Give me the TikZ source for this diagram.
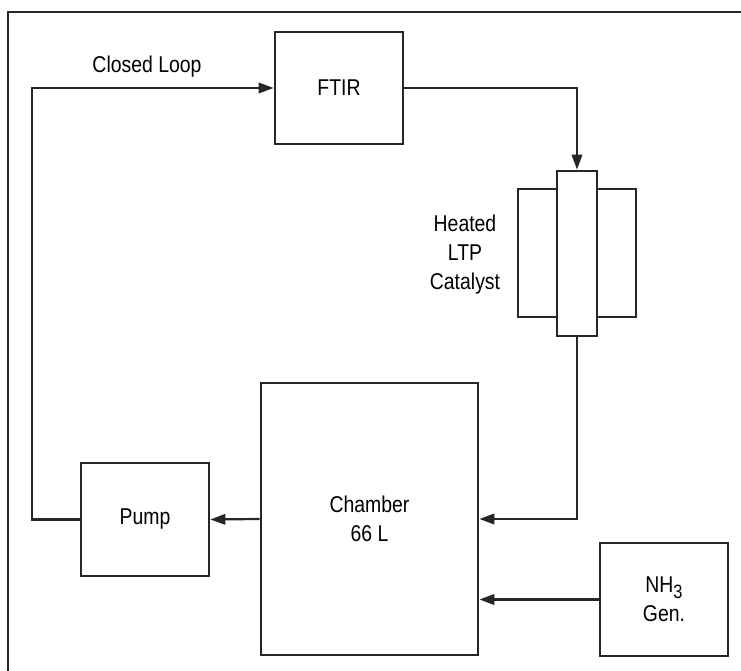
\documentclass[tikz,border=0pt]{standalone}
\usepackage{fontspec}
\setmainfont[FakeStretch=0.85]{Liberation Sans}
\usetikzlibrary{arrows.meta}

\begin{document}
\begin{tikzpicture}[x=0.02cm,y=-0.02cm,
    font=\fontsize{13pt}{16.5pt}\selectfont,
    unit/.style={draw=black!85,line width=1.6pt,align=center,inner sep=0pt},
    flow/.style={draw=black!85,line width=1.25pt},
    feed/.style={flow,-{Triangle[length=3mm,width=2.1mm]}},
    frameline/.style={draw=black!85,line width=1.6pt},
    tag/.style={align=center,inner sep=0pt}]
%
\useasboundingbox (0,0) rectangle (741,671);
% Rahmen (oben und links)
\draw[frameline] (741,12) -- (8,12) -- (8,671);
%
% ============ Geraete ============
\node[unit,minimum width=2.56cm,minimum height=2.24cm] (ftir) at (339,88) {FTIR};
% Katalysator: Rohr mit Heizmantel
\node[unit,minimum width=0.78cm,minimum height=2.56cm] (jacketL) at (537.5,253) {};
\node[unit,minimum width=0.78cm,minimum height=2.56cm] (jacketR) at (616.5,253) {};
\node[unit,fill=white,minimum width=0.8cm,minimum height=3.3cm] (tube) at (577,253.5) {};
\node[tag] (catlabel) at (465,255) {Heated\\LTP\\Catalyst};
% Kammer, Pumpe, NH3-Quelle
\node[unit,minimum width=4.34cm,minimum height=5.44cm] (chamber) at (369.5,519) {Chamber\\66 L};
\node[unit,minimum width=2.56cm,minimum height=2.26cm] (pump) at (145,519.5) {Pump};
\node[unit,minimum width=2.56cm,minimum height=2.26cm] (nhgen) at (664,599.5)
  {NH\raisebox{-0.5ex}{\fontsize{11pt}{11pt}\selectfont 3}\\Gen.};
%
% ============ Leitungen ============
\coordinate (loopleft) at (32,88);
\node[tag] (looplabel) at (147,67) {Closed Loop};
\draw[feed] (pump.west) -| (loopleft) -- (ftir.west);
\draw[feed] (ftir.east) -| (tube.north);
\draw[feed] (tube.south) |- (chamber.east);
\draw[feed] (chamber.west) -- (pump.east);
\draw[feed] (nhgen.west) -- (nhgen.west -| chamber.east);
%
\end{tikzpicture}
\end{document}
